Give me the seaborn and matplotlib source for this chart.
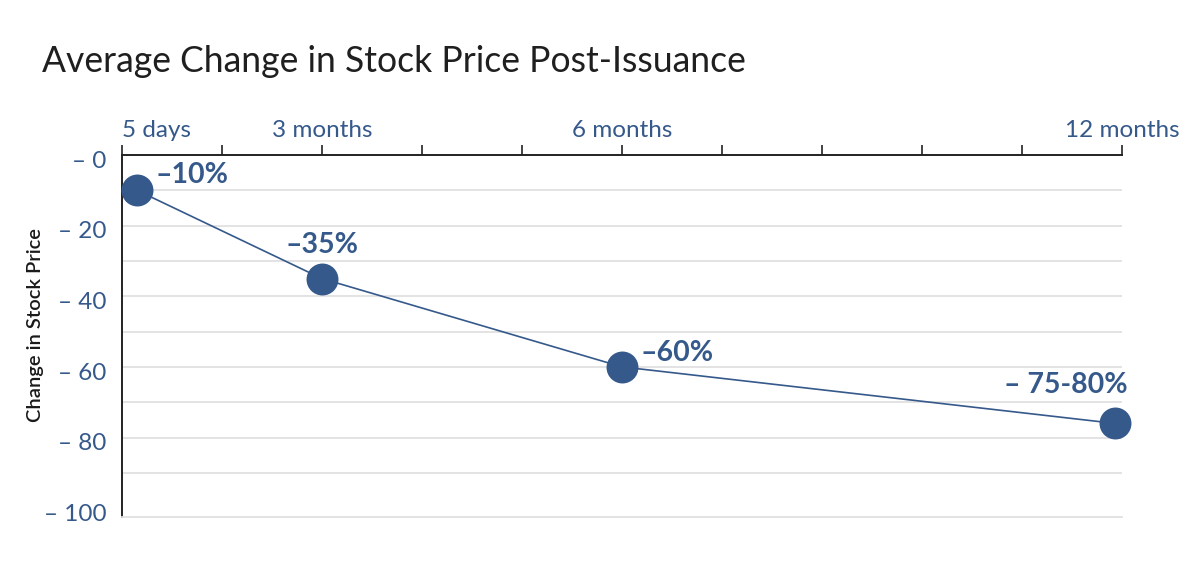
import matplotlib
matplotlib.use("Agg")
import matplotlib.pyplot as plt
import matplotlib.transforms as mtransforms
import seaborn as sns
import pandas as pd

# data
periods = ['5 days', '3 months', '6 months', '12 months']
x_pos = [0.15, 2, 5, 9.93]          # position on the (non-linear) time axis
change = [-10, -35, -60, -76]
point_labels = ['–10%', '–35%', '–60%', '– 75-80%']

tick_pos = list(range(0, 11))
label_pos = [0, 2, 5, 10]
y_ticks = [0, -20, -40, -60, -80, -100]
y_labels = ['– 0', '– 20', '– 40', '– 60', '– 80', '– 100']

df = pd.DataFrame({'period': periods, 'x': x_pos, 'change': change})

blue = '#35598b'
sns.set_style('white')
plt.rcParams['font.family'] = ['Lato', 'DejaVu Sans']

fig = plt.figure(figsize=(12, 5.69), dpi=100)
ax = fig.add_axes([0.1017, 0.0914, 0.8333, 0.6362])

sns.lineplot(data=df, x='x', y='change', ax=ax, color=blue, lw=1.2,
             marker='o', markersize=23, markeredgewidth=0, zorder=3, clip_on=False)

ax.set_xlim(0, 10)
ax.set_ylim(-102.5, 0)

# grid lines every 10
for v in range(-10, -100, -10):
    ax.axhline(v, color='#e1e1e1', lw=1.3, zorder=0)

ax.xaxis.tick_top()
ax.set_xticks(tick_pos)
ax.set_xticklabels([periods[label_pos.index(t)] if t in label_pos else '' for t in tick_pos])
ax.tick_params(axis='x', direction='out', length=7, width=1.2, color='#222222',
               labelsize=17.5, labelcolor=blue, pad=3)
ax.get_xticklabels()[0].set_horizontalalignment('left')

ax.set_yticks(y_ticks)
ax.set_yticklabels(y_labels)
ax.tick_params(axis='y', length=0, labelsize=17.5, labelcolor=blue, pad=11)
# labels in the reference sit a little below their grid value
shift = mtransforms.ScaledTranslation(0, -3 / 72, fig.dpi_scale_trans)
for lab in ax.get_yticklabels():
    lab.set_transform(lab.get_transform() + shift)

ax.spines['right'].set_visible(False)
ax.spines['top'].set_color('#222222')
ax.spines['top'].set_linewidth(1.4)
ax.spines['left'].set_color('#222222')
ax.spines['left'].set_linewidth(1.4)
ax.spines['bottom'].set_color('#e1e1e1')
ax.spines['bottom'].set_linewidth(1.3)

ax.set_xlabel('')
ax.set_ylabel('Change in Stock Price', fontsize=14.5, fontweight='semibold', color='#1a1a1a')
ax.yaxis.set_label_coords(-0.078, 0.53)

offsets = [(13, 11, 'left'), (0, 24, 'center'), (13, 10, 'left'), (9, 28, 'right')]
for xv, yv, txt, (dx, dy, ha) in zip(x_pos, change, point_labels, offsets):
    ax.annotate(txt, (xv, yv), xytext=(dx, dy), textcoords='offset points',
                ha=ha, va='center', fontsize=20.5, fontweight='bold', color=blue)

fig.text(42 / 1200, 1 - 72 / 569, 'Average Change in Stock Price Post-Issuance',
         fontsize=25.6, color='#1f1f1f', va='baseline', ha='left')

fig.savefig('out.png', dpi=100)
